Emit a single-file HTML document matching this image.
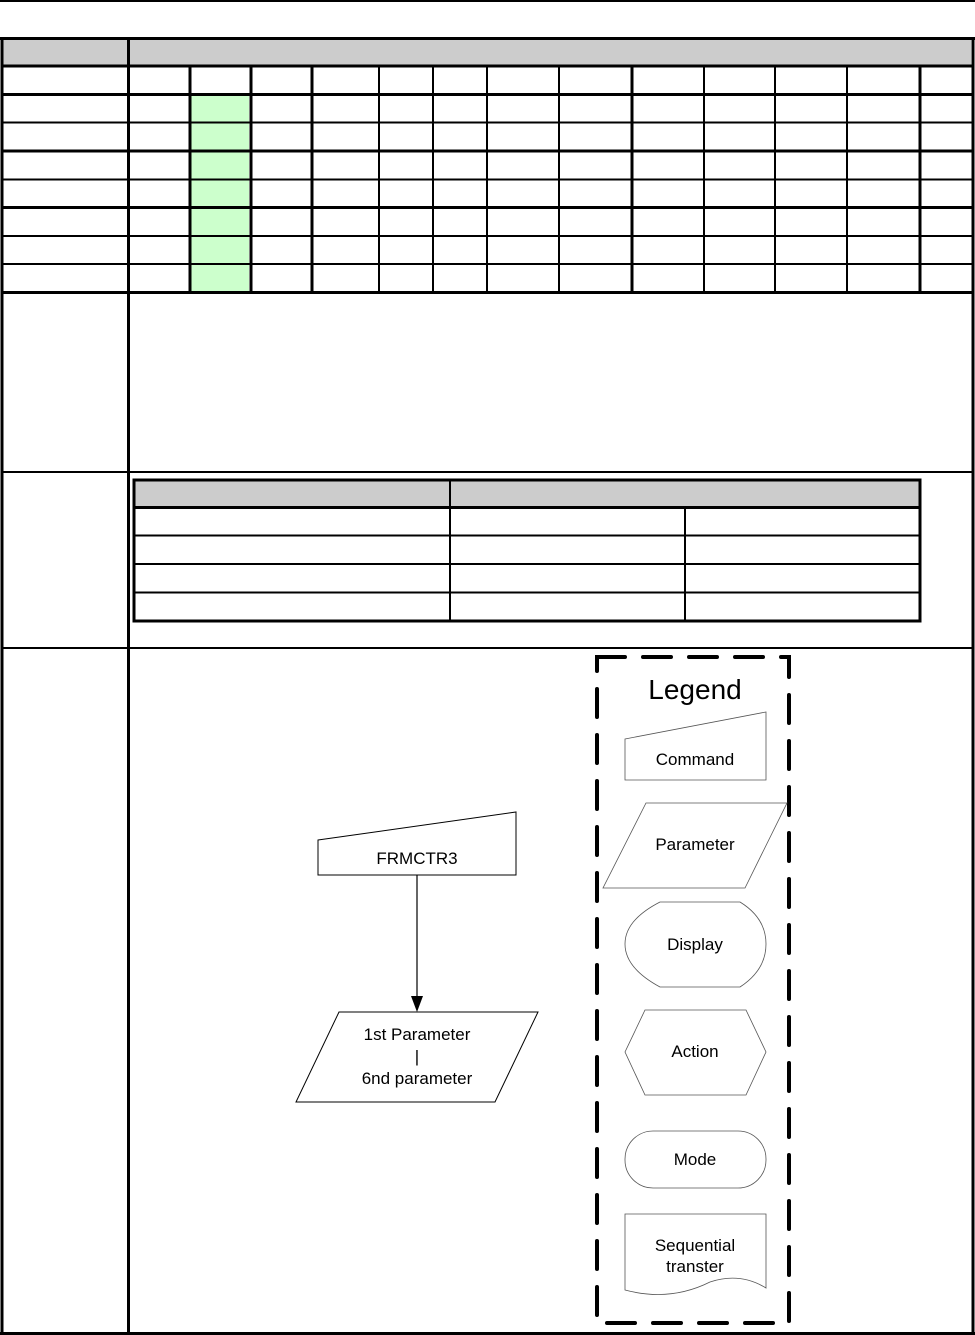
<!DOCTYPE html>
<html><head><meta charset="utf-8"><style>
html,body{margin:0;padding:0;background:#fff;}
svg{display:block;font-family:"Liberation Sans",Arial,sans-serif;}
</style></head><body>
<svg width="975" height="1335" viewBox="0 0 975 1335" xmlns="http://www.w3.org/2000/svg">
<rect width="975" height="1335" fill="#fff"/>
<line x1="0" y1="1" x2="975" y2="1" stroke="#000" stroke-width="2"/>
<rect x="3" y="40" width="968" height="25" fill="#cccccc"/>
<rect x="191" y="95" width="58" height="196" fill="#ccffcc"/>
<g stroke="#000" fill="none">
<line x1="0" y1="38.5" x2="975" y2="38.5" stroke-width="3"/>
<line x1="2" y1="37" x2="2" y2="1335" stroke-width="3"/>
<line x1="973" y1="37" x2="973" y2="1335" stroke-width="3"/>
<line x1="0" y1="1333.5" x2="975" y2="1333.5" stroke-width="3"/>
<line x1="128.5" y1="38" x2="128.5" y2="1335" stroke-width="3"/>
<g stroke-width="3">
<line x1="2" y1="66" x2="973" y2="66"/>
<line x1="2" y1="94.5" x2="973" y2="94.5"/>
<line x1="2" y1="151" x2="973" y2="151"/>
<line x1="2" y1="207.5" x2="973" y2="207.5"/>
<line x1="2" y1="292.5" x2="973" y2="292.5"/>
<line x1="2" y1="472" x2="973" y2="472" stroke-width="2"/>
<line x1="2" y1="648" x2="973" y2="648" stroke-width="2"/>
</g>
<g stroke-width="2">
<line x1="2" y1="122.5" x2="973" y2="122.5"/>
<line x1="2" y1="179.5" x2="973" y2="179.5"/>
<line x1="2" y1="236" x2="973" y2="236"/>
<line x1="2" y1="264" x2="973" y2="264"/>
</g>
<g stroke-width="3">
<line x1="190" y1="66" x2="190" y2="292"/>
<line x1="251" y1="66" x2="251" y2="292"/>
<line x1="312" y1="66" x2="312" y2="292"/>
<line x1="632" y1="66" x2="632" y2="292"/>
<line x1="920" y1="66" x2="920" y2="292"/>
</g>
<g stroke-width="2">
<line x1="379" y1="66" x2="379" y2="292"/>
<line x1="433" y1="66" x2="433" y2="292"/>
<line x1="487" y1="66" x2="487" y2="292"/>
<line x1="559" y1="66" x2="559" y2="292"/>
<line x1="704" y1="66" x2="704" y2="292"/>
<line x1="775" y1="66" x2="775" y2="292"/>
<line x1="847" y1="66" x2="847" y2="292"/>
</g>
</g>
<rect x="134" y="480" width="786" height="27" fill="#cccccc"/>
<g stroke="#000" fill="none">
<rect x="134" y="480" width="786" height="141" stroke-width="3"/>
<line x1="134" y1="507.5" x2="920" y2="507.5" stroke-width="3"/>
<line x1="134" y1="535.5" x2="920" y2="535.5" stroke-width="2"/>
<line x1="134" y1="564" x2="920" y2="564" stroke-width="2"/>
<line x1="134" y1="592.5" x2="920" y2="592.5" stroke-width="2"/>
<line x1="450" y1="480" x2="450" y2="621" stroke-width="2"/>
<line x1="685" y1="507" x2="685" y2="621" stroke-width="2"/>
</g>
<g stroke="#000" fill="#fff" stroke-width="1">
<polygon points="318,840 516,812 516,875 318,875"/>
<polygon points="339,1012 538,1012 495,1102 296,1102"/>
</g>
<line x1="417" y1="875" x2="417" y2="998" stroke="#000" stroke-width="1.2"/>
<polygon points="411,996 423,996 417,1012" fill="#000"/>
<g font-size="17" text-anchor="middle" fill="#000">
<text x="417" y="864">FRMCTR3</text>
<text x="417" y="1040">1st Parameter</text>
<text x="417" y="1062">|</text>
<text x="417" y="1084">6nd parameter</text>
</g>
<rect x="597" y="657" width="192" height="666" fill="none" stroke="#000" stroke-width="4" stroke-dasharray="28,18" stroke-linecap="round"/>
<text x="695" y="699" font-size="28" text-anchor="middle">Legend</text>
<g stroke="#555" fill="#fff" stroke-width="0.8">
<polygon points="625,739 766,712 766,780 625,780"/>
<polygon points="646,803 787,803 745,888 603,888"/>
<path d="M660 902 L740 902 Q766 918 766 944 Q766 970 740 987 L660 987 Q625 968 625 944 Q625 920 660 902 Z"/>
<polygon points="645,1010 746,1010 766,1052 746,1095 645,1095 625,1052"/>
<rect x="625" y="1131" width="141" height="57" rx="28" ry="28"/>
<path d="M625 1214 L766 1214 L766 1288 Q740 1272 710 1282 Q670 1302 625 1290 Z"/>
</g>
<g font-size="17" text-anchor="middle" fill="#000">
<text x="695" y="765">Command</text>
<text x="695" y="850">Parameter</text>
<text x="695" y="950">Display</text>
<text x="695" y="1057">Action</text>
<text x="695" y="1165">Mode</text>
<text x="695" y="1251">Sequential</text>
<text x="695" y="1272">transter</text>
</g>
</svg>
</body></html>
